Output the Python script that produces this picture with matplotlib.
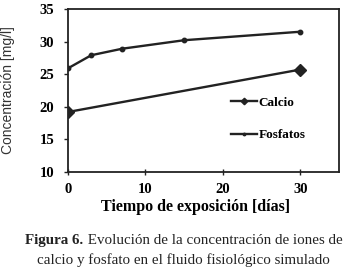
import matplotlib
matplotlib.use("Agg")
import matplotlib.pyplot as plt

dias_calcio = [0, 30]
calcio = [19.2, 25.7]
dias_fosfatos = [0, 3, 7, 15, 30]
fosfatos = [25.9, 27.9, 28.9, 30.2, 31.5]
xticks = [0, 10, 20, 30]
yticks = [10, 15, 20, 25, 30, 35]

plt.rcParams['font.family'] = ['Liberation Serif', 'DejaVu Serif']
fig = plt.figure(figsize=(3.49, 2.70), dpi=100)
ax = fig.add_axes([0.195, 0.363, 0.776, 0.604])
col = '#222222'
ax.plot(dias_calcio, calcio, color=col, lw=1.7, marker='D', ms=6, label='Calcio')
ax.plot(dias_fosfatos, fosfatos, color=col, lw=1.7, marker='o', ms=3.2, label='Fosfatos')
ax.set_xlim(0, 35)
ax.set_ylim(10, 35)
ax.set_xticks(xticks)
ax.set_yticks(yticks)
ax.tick_params(width=1, labelsize=10.5, color=col)
ax.tick_params(axis='y', direction='out', length=3, pad=7)
ax.tick_params(axis='x', direction='inout', length=4, pad=6)
for t in ax.get_xticklabels() + ax.get_yticklabels():
    t.set_fontweight('bold')
for s in ax.spines.values():
    s.set_linewidth(1.3)
    s.set_color(col)
ax.set_xlabel('Tiempo de exposición [días]', fontsize=11.5, fontweight='bold')
ax.xaxis.set_label_coords(0.47, -0.165)
ax.set_ylabel('Concentración [mg/l]', fontsize=10, color='#333', family=['Liberation Sans', 'DejaVu Sans'])
ax.yaxis.set_label_coords(-0.196, 0.5)
h, l = ax.get_legend_handles_labels()
leg = ax.legend(h, l, loc='center left', bbox_to_anchor=(0.558, 0.325), frameon=False,
                handlelength=2.0, handletextpad=0.1, labelspacing=1.5,
                markerscale=0.55, prop={'weight': 'bold', 'size': 9.5})

cap1_b = 'Figura 6.'
cap1_r = ' Evolución de la concentración de iones de'
cap2 = 'calcio y fosfato en el fluido fisiológico simulado'
fs = 10.8
tb = fig.text(0, 0, cap1_b, fontsize=fs, fontweight='bold', color='#222')
tr = fig.text(0, 0, cap1_r, fontsize=fs, color='#222')
fig.canvas.draw()
wb = tb.get_window_extent().width / fig.bbox.width
wr = tr.get_window_extent().width / fig.bbox.width
cx = 0.527
x0 = cx - (wb + wr) / 2
tb.set_position((x0, 0.11))
tr.set_position((x0 + wb, 0.11))
tb.set_va('center'); tr.set_va('center')
fig.text(cx, 0.037, cap2, fontsize=fs, ha='center', va='center', color='#222')
fig.savefig('out.png', dpi=100)
